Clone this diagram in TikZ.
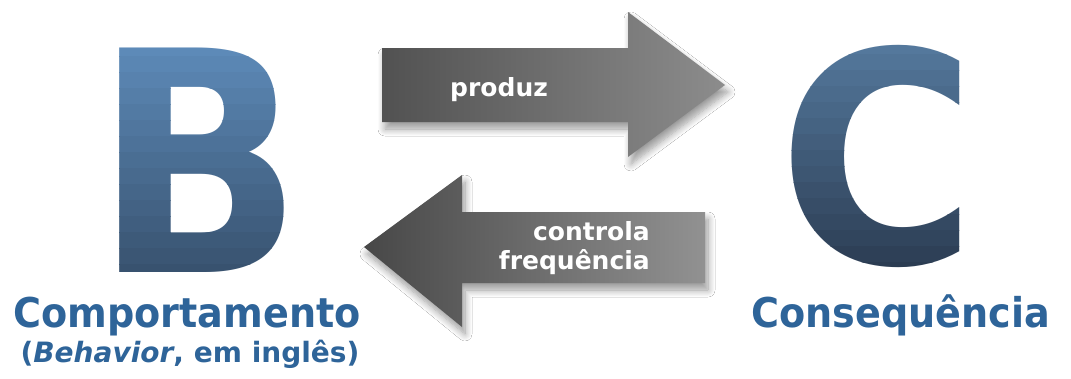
\documentclass[tikz,border=0pt]{standalone}
\usepackage{fontspec}
\setmainfont{DejaVu Sans}
\usetikzlibrary{shadows.blur}
\definecolor{lblue}{HTML}{2E6499}
\definecolor{btop}{HTML}{5D8AB8}
\definecolor{bbot}{HTML}{38526F}
\definecolor{ctop}{HTML}{54789C}
\definecolor{cbot}{HTML}{2B3C52}
\tikzset{
  bigB/.style={inner sep=0pt,font=\fontsize{308}{308}\selectfont\bfseries,xscale=0.89,transform shape},
  bigC/.style={inner sep=0pt,font=\fontsize{294}{294}\selectfont\bfseries,xscale=0.92,transform shape},
  lbl/.style={text=lblue,font=\fontsize{41}{41}\selectfont\bfseries,inner sep=0pt,anchor=base,xscale=0.93,transform shape},
  sublbl/.style={text=lblue,font=\fontsize{28}{28}\selectfont\bfseries,inner sep=0pt,anchor=base},
  arr/.style={blur shadow={shadow xshift=3pt,shadow yshift=-7pt,shadow blur steps=10,shadow opacity=40,shadow blur radius=7pt}},
  arrtxt/.style={text=white,font=\fontsize{25}{25}\selectfont\bfseries,inner sep=0pt}
}
\begin{document}
\begin{tikzpicture}[x=1pt,y=-1pt]
\useasboundingbox (0,0) rectangle (1071,378);
\fill[white] (0,0) rectangle (1071,378);
% big letters drawn in horizontal strips for a vertical gradient
\foreach \i in {0,...,14}{
  \pgfmathsetmacro{\pct}{100-\i*100/14}
  \begin{scope}
    \clip (90,{40+\i*16}) rectangle (310,{56.5+\i*16});
    \node[bigB,text=btop!\pct!bbot] (B\i) at (198.5,160.5) {B};
  \end{scope}
  \begin{scope}
    \clip (770,{38+\i*16}) rectangle (990,{54.5+\i*16});
    \node[bigC,text=ctop!\pct!cbot] (C\i) at (878,156) {C};
  \end{scope}
}
% arrows
\path[arr,left color=black!68,right color=black!45] (382,48) -- (628,48) -- (628,12) -- (725,85) -- (628,157) -- (628,122) -- (382,122) -- cycle;
\path[arr,left color=black!72,right color=black!43] (705,212) -- (462,212) -- (462,175) -- (364,247) -- (462,327) -- (462,283) -- (705,283) -- cycle;
\node[arrtxt,anchor=base west] (p) at (450,96) {produz};
\node[arrtxt,anchor=base east] (c1) at (650,240) {controla};
\node[arrtxt,anchor=base east] (c2) at (650,269) {frequência};
% labels
\node[lbl] (comp) at (187,327) {Comportamento};
\node[sublbl] (beh) at (190,362) {(\textit{Behavior}, em inglês)};
\node[lbl] (cons) at (901,327) {Consequência};
\end{tikzpicture}
\end{document}
